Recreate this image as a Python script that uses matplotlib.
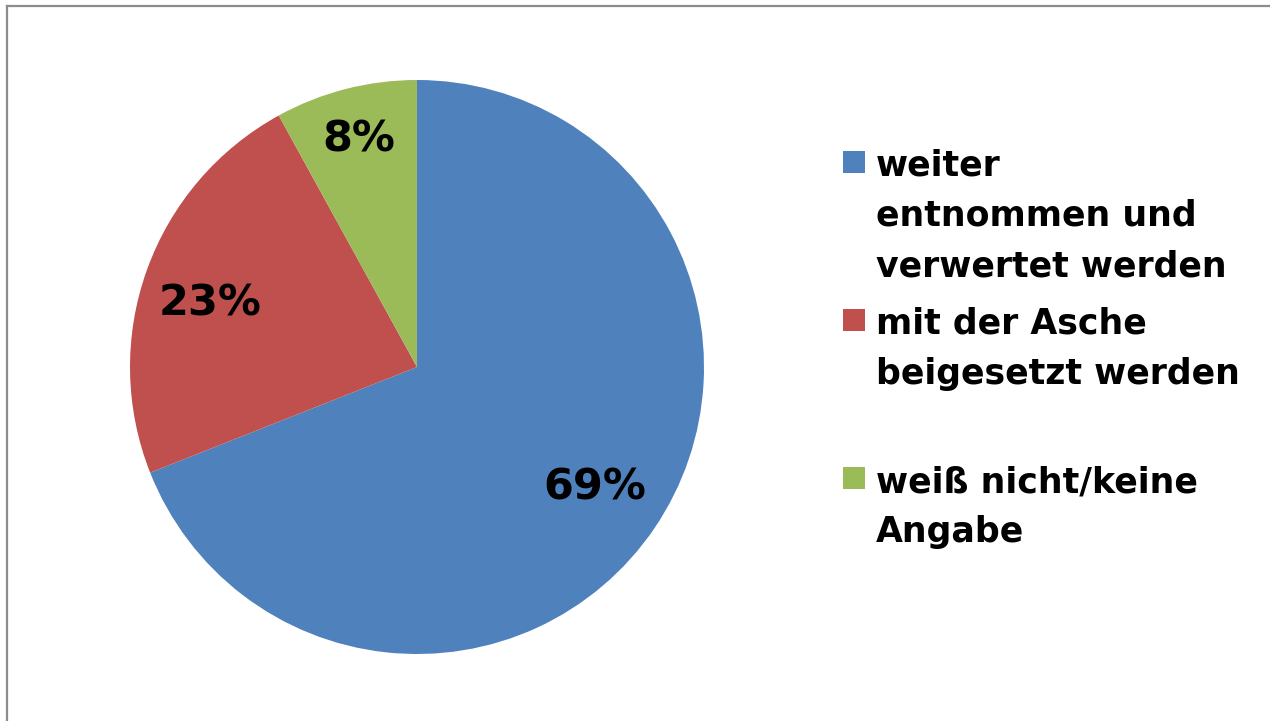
import matplotlib
matplotlib.use('Agg')
import matplotlib.pyplot as plt
from matplotlib.patches import Rectangle
from matplotlib.lines import Line2D

# --- DATA ---
labels = ["weiter\nentnommen und\nverwertet werden",
          "mit der Asche\nbeigesetzt werden",
          "weiß nicht/keine\nAngabe"]
values = [69, 23, 8]
colors = ['#4F81BD', '#C0504D', '#9BBB59']

plt.rcParams['font.family'] = ['DejaVu Sans']

W, H = 1270, 721
fig = plt.figure(figsize=(W / 100, H / 100), dpi=100)
fig.patch.set_facecolor('white')

# pie axes: center (417, 367) px, radius 287 px
cx, cy, r = 417, 367, 287
ax = fig.add_axes([(cx - r) / W, (H - cy - r) / H, 2 * r / W, 2 * r / H])
wedges, texts, autotexts = ax.pie(
    values, colors=colors, startangle=90, counterclock=False,
    autopct=lambda p: f"{p:.0f}%", pctdistance=0.75,
    wedgeprops=dict(linewidth=0),
    textprops=dict(fontsize=31, fontweight='bold', color='black'))
# nudge labels a little, like Excel's "best fit"
x, y = autotexts[1].get_position()
autotexts[1].set_position((x * 1.02, y * 0.87))
x, y = autotexts[2].get_position()
autotexts[2].set_position((x * 0.82 / 0.75, y * 0.82 / 0.75))
ax.set_xlim(-1, 1)
ax.set_ylim(-1, 1)
ax.set_aspect('equal')
ax.axis('off')

# --- LEGEND (manual, Excel-like spacing) ---
line_h = 50      # px between lines
entry_step = 158 # px between entry first baselines
first_base = 176
for i, (lab, col) in enumerate(zip(labels, colors)):
    base = first_base + i * entry_step
    sq_top = base - 25
    fig.patches.append(Rectangle((843 / W, (H - sq_top - 22) / H), 22 / W, 22 / H,
                                 transform=fig.transFigure, facecolor=col,
                                 edgecolor='none'))
    for j, line in enumerate(lab.split("\n")):
        fig.text(876 / W, (H - base - j * line_h) / H, line, fontsize=25,
                 fontweight='bold', color='black', ha='left', va='baseline')

# --- frame border (top and left) ---
fig.lines.append(Line2D([7 / W, 7 / W], [0, (H - 6) / H], transform=fig.transFigure,
                        color='#8c8c8c', linewidth=1.6))
fig.lines.append(Line2D([7 / W, 1], [(H - 6) / H, (H - 6) / H], transform=fig.transFigure,
                        color='#8c8c8c', linewidth=1.6))

fig.savefig('out.png', dpi=100, facecolor='white')
